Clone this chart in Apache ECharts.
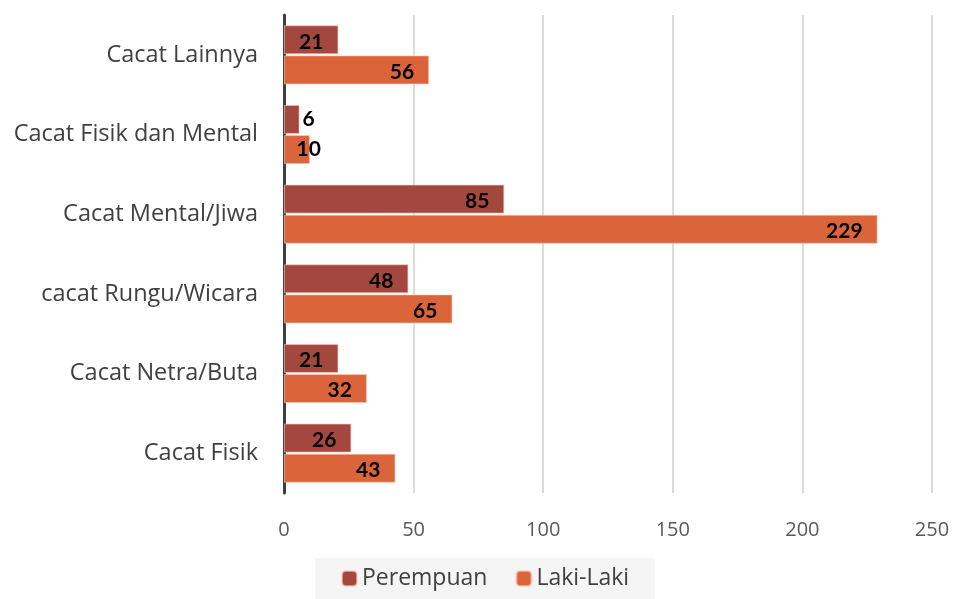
<!DOCTYPE html>
<html><head><meta charset="utf-8">
<script src="https://cdn.jsdelivr.net/npm/echarts@6/dist/echarts.min.js"></script>
<style>html,body{margin:0;padding:0;background:#fff}#c{width:954px;height:599px}</style>
</head><body><div id="c"></div>
<script>
var categories = ['Cacat Fisik','Cacat Netra/Buta','cacat Rungu/Wicara','Cacat Mental/Jiwa','Cacat Fisik dan Mental','Cacat Lainnya'];
var perempuan = [26, 21, 48, 85, 6, 21];
var lakiLaki = [43, 32, 65, 229, 10, 56];
var seriesNames = ['Perempuan','Laki-Laki'];
var colors = ['#A4483F','#DB643A'];

function mk(vals){
  return vals.map(function(v){
    var o = {value: v};
    if (v < 8) o.label = {position: 'right', offset: [-2, 0]};
    else if (v < 15) o.label = {position: 'insideRight', offset: [16, 0]};
    return o;
  });
}
var labelCfg = {show: true, position: 'insideRight', offset: [-10, 2], color: '#000', fontSize: 21, fontWeight: 'bold', fontFamily: 'Lato'};
var chart = echarts.init(document.getElementById('c'));
chart.setOption({
  animation: false,
  grid: {left: 284, right: 22, top: 15, bottom: 106},
  legend: {bottom: 0, left: 315, itemWidth: 15, itemHeight: 15, itemGap: 28, padding: [9, 26, 9, 26], backgroundColor: '#F5F5F5',
    textStyle: {fontSize: 23, color: '#404040', fontFamily: 'Open Sans'}, data: seriesNames},
  xAxis: {type: 'value', min: 0, max: 250, interval: 50,
    axisLine: {show: false}, axisTick: {show: false},
    splitLine: {lineStyle: {color: '#CFCFCF', width: 1.5}},
    axisLabel: {fontSize: 20, color: '#595959', margin: 27, fontFamily: 'Open Sans'}},
  yAxis: {type: 'category', data: categories,
    axisLine: {lineStyle: {color: '#404040', width: 3}}, axisTick: {show: false},
    axisLabel: {fontSize: 23.5, color: '#404040', margin: 26, fontFamily: 'Open Sans'}},
  series: [
    {name: seriesNames[0], type: 'bar', data: mk(perempuan), barWidth: 29, barGap: '4%',
     itemStyle: {color: colors[0], borderColor: 'rgba(255,200,190,0.6)', borderWidth: 1}, label: labelCfg},
    {name: seriesNames[1], type: 'bar', data: mk(lakiLaki), barWidth: 29, barGap: '4%',
     itemStyle: {color: colors[1], borderColor: 'rgba(255,200,180,0.6)', borderWidth: 1}, label: labelCfg}
  ]
});
</script></body></html>
